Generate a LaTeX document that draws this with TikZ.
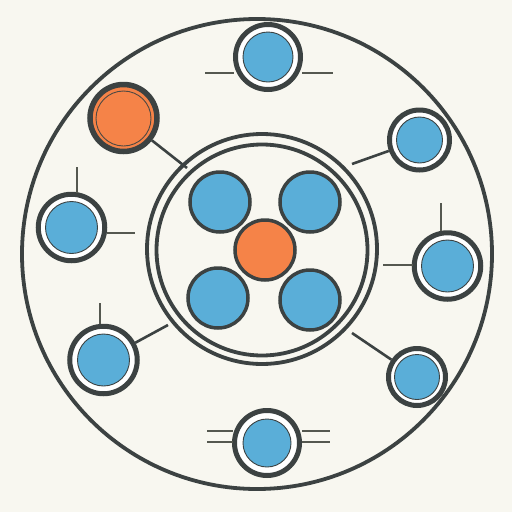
\documentclass[tikz,border=0pt]{standalone}
\usepackage{tikz}
\definecolor{bgc}{RGB}{248,247,240}
\definecolor{dk}{RGB}{60,66,66}
\definecolor{bl}{RGB}{90,174,216}
\definecolor{org}{RGB}{245,131,72}
\definecolor{tick}{RGB}{85,88,80}
\begin{document}
\begin{tikzpicture}[x=1pt,y=-1pt,
  ringnode/.style={circle,draw=dk,line width=5pt,fill=white,inner sep=0pt,minimum size=#1},
  disc/.style={circle,draw=dk,line width=0.9pt,fill=bl,inner sep=0pt,minimum size=#1},
  hub/.style={circle,draw=dk,line width=3.5pt,fill=bl,inner sep=0pt,minimum size=60pt},
  bigring/.style={circle,draw=dk,line width=3.8pt,inner sep=0pt,minimum size=#1},
  conn/.style={draw=dk,line width=2.6pt},
  tk/.style={draw=tick,line width=2.6pt}]
\fill[bgc] (0,0) rectangle (512,512);
\useasboundingbox (0,0) rectangle (512,512);
% big circle
\node[bigring=470pt] (outer) at (257,254) {};
% double ring
\node[bigring=230pt] (ringA) at (262,249) {};
\node[bigring=211pt] (ringB) at (262,250) {};
% connector end points on the rings
\coordinate (eTL) at (187,168);
\coordinate (eTR) at (352,164);
\coordinate (eBL) at (168,325);
\coordinate (eBR) at (352,333);
% outer nodes
\node[ringnode=65pt] (nTop) at (268,57) {};
\node[disc=50pt] (dTop) at (268,57) {};
\node[circle,draw=dk,line width=5.5pt,fill=org,inner sep=0pt,minimum size=67pt] (nOrg) at (123.5,118) {};
\node[circle,draw=dk!90!org,line width=0.9pt,inner sep=0pt,minimum size=55pt] (dOrg) at (123.5,118.5) {};
\node[ringnode=60pt] (nRT) at (419.5,140) {};
\node[disc=46pt] (dRT) at (419.5,140) {};
\node[ringnode=66.5pt] (nL) at (71.5,227.5) {};
\node[disc=52pt] (dL) at (71.5,227.5) {};
\node[ringnode=66.5pt] (nR) at (447.5,266) {};
\node[disc=52pt] (dR) at (447.5,266) {};
\node[ringnode=67.5pt] (nLL) at (103.5,360) {};
\node[disc=52pt] (dLL) at (103.5,360) {};
\node[ringnode=57pt] (nLR) at (417,377) {};
\node[disc=45pt] (dLR) at (417,377) {};
\node[ringnode=65pt] (nB) at (267,443) {};
\node[disc=48pt] (dB) at (267,443) {};
% connectors
\draw[conn] (nOrg) -- (eTL);
\draw[conn] (nRT) -- (eTR);
\draw[conn] (nLL) -- (eBL);
\draw[conn] (nLR) -- (eBR);
% ticks
\coordinate (t1a) at (205,73); \coordinate (t1b) at (234,73);
\coordinate (t2a) at (302,73); \coordinate (t2b) at (333,73);
\draw[tk] (t1a) -- (t1b);
\draw[tk] (t2a) -- (t2b);
\coordinate (t3a) at (77,167); \coordinate (t3b) at (77,193);
\coordinate (t4a) at (107,233); \coordinate (t4b) at (135,233);
\draw[tk] (t3a) -- (t3b);
\draw[tk] (t4a) -- (t4b);
\coordinate (t5a) at (441,203); \coordinate (t5b) at (441,231);
\coordinate (t6a) at (383,265); \coordinate (t6b) at (413,265);
\draw[tk] (t5a) -- (t5b);
\draw[tk] (t6a) -- (t6b);
\coordinate (t7a) at (100,303); \coordinate (t7b) at (100,324);
\draw[tk] (t7a) -- (t7b);
\coordinate (t8a) at (207,431); \coordinate (t8b) at (233,431);
\coordinate (t9a) at (207,442); \coordinate (t9b) at (233,442);
\coordinate (t10a) at (302,431); \coordinate (t10b) at (330,431);
\coordinate (t11a) at (302,442); \coordinate (t11b) at (330,442);
\draw[tk] (t8a) -- (t8b);
\draw[tk] (t9a) -- (t9b);
\draw[tk] (t10a) -- (t10b);
\draw[tk] (t11a) -- (t11b);
% hub
\node[hub] (h1) at (220,202) {};
\node[hub] (h2) at (310,202) {};
\node[hub] (h3) at (218,298) {};
\node[hub] (h4) at (310,300) {};
\node[hub,fill=org] (hc) at (265,250) {};
\end{tikzpicture}
\end{document}
